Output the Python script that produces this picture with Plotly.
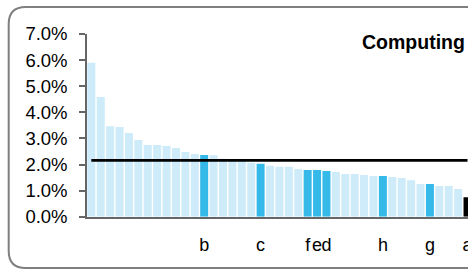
import plotly.graph_objects as go

# ---- data (percent) ----
values = [5.90, 4.59, 3.47, 3.44, 3.21, 2.94, 2.75, 2.75, 2.71, 2.63,
          2.48, 2.40, 2.36, 2.35, 2.22, 2.20, 2.18, 2.07, 2.03, 1.95,
          1.91, 1.91, 1.83, 1.79, 1.79, 1.75, 1.71, 1.64, 1.64, 1.60,
          1.56, 1.56, 1.52, 1.48, 1.40, 1.25, 1.25, 1.18, 1.18, 1.06,
          0.75]
highlight_idx = [12, 18, 23, 24, 25, 31, 36]
focus_idx = 40
label_idx = [12, 18, 23, 24, 25, 31, 36, 40]
label_text = ["b", "c", "f", "e", "d", "h", "g", "a"]
average = 2.16
title_text = "Computing"

W, H = 468, 270
LIGHT = "#CDEBF8"
DARK = "#35B9E9"

x = list(range(len(values)))
colors = []
for i in x:
    if i == focus_idx:
        colors.append("#000000")
    elif i in highlight_idx:
        colors.append(DARK)
    else:
        colors.append(LIGHT)

fig = go.Figure()
fig.add_trace(go.Bar(x=x, y=values, marker=dict(color=colors, line=dict(width=0)),
                     showlegend=False, hoverinfo="skip"))
fig.add_trace(go.Scatter(x=x, y=[average] * len(x), mode="lines",
                         line=dict(color="#000000", width=2.8),
                         showlegend=False, hoverinfo="skip"))

def px(v):
    return v / W

def py(v):
    return 1 - v / H

# rounded frame
r = 17
L, T, B, R = 8.7, 7.0, 268.0, 490.0
path = (f"M {px(R)},{py(T)} L {px(L + r)},{py(T)} Q {px(L)},{py(T)} {px(L)},{py(T + r)} "
        f"L {px(L)},{py(B - r)} Q {px(L)},{py(B)} {px(L + r)},{py(B)} L {px(R)},{py(B)}")
fig.add_shape(type="path", path=path, xref="paper", yref="paper",
              line=dict(color="#7F7F7F", width=2))

fig.add_annotation(text=f"<b>{title_text}</b>", xref="paper", yref="paper",
                   x=px(467), y=py(42), xanchor="right", yanchor="middle",
                   showarrow=False, font=dict(family="Liberation Sans, Arial", size=19.5, color="#000"))

fig.update_layout(
    width=W, height=H, autosize=False,
    margin=dict(l=0, r=0, t=0, b=0, pad=0, autoexpand=False),
    paper_bgcolor="white", plot_bgcolor="white",
    bargap=0.15,
    font=dict(family="Liberation Sans, Arial", color="#000"),
    xaxis=dict(domain=[px(87), 1], range=[-0.46, 40.05], showgrid=False, zeroline=False,
               showline=True, linecolor="#666666", linewidth=1.5, automargin=False,
               tickmode="array", tickvals=label_idx, ticktext=label_text, tickangle=0,
               ticks="", tickfont=dict(size=18), ticklabelstandoff=11,
               ticklabeloverflow="allow"),
    yaxis=dict(domain=[py(216.7), py(34)], range=[0, 7], dtick=1, automargin=False,
               tickformat=".1f", ticksuffix="%", showgrid=False, zeroline=False,
               showline=True, linecolor="#666666", linewidth=1.5,
               ticks="outside", ticklen=6, tickcolor="#666666", tickwidth=1.5,
               tickfont=dict(size=18.5), ticklabelstandoff=8),
)

fig.write_html("out.html", config={"displayModeBar": False},
               post_script="document.body.style.margin='0';")
